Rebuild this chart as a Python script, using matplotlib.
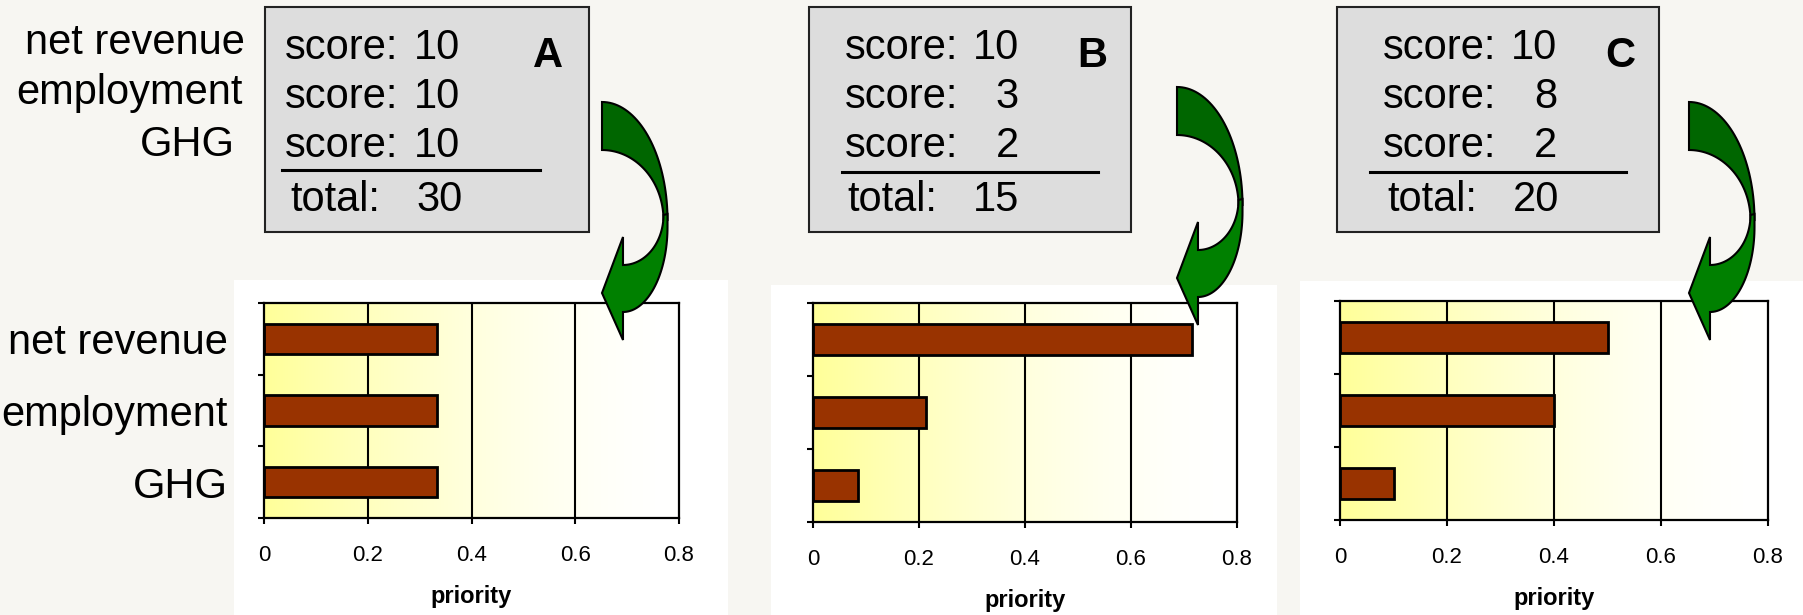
import numpy as np
import matplotlib
matplotlib.use("Agg")
import matplotlib.pyplot as plt
from matplotlib.patches import Rectangle, Polygon

plt.rcParams['font.family'] = ['Liberation Sans', 'DejaVu Sans']

# data
categories = ["net revenue", "employment", "GHG"]
scenarios = ["A", "B", "C"]
scores_A = [10, 10, 10]
scores_B = [10, 3, 2]
scores_C = [10, 8, 2]
totals = [30, 15, 20]
priority_A = [0.333, 0.333, 0.333]
priority_B = [0.715, 0.213, 0.085]
priority_C = [0.5, 0.4, 0.1]
xticks = [0, 0.2, 0.4, 0.6, 0.8]

W, H = 1803, 615
BG = "#F7F6F2"
BAR = "#993300"

fig = plt.figure(figsize=(W / 100, H / 100), dpi=100, facecolor=BG)

# background layer in pixel coords
bg = fig.add_axes([0, 0, 1, 1])
bg.set_xlim(0, W)
bg.set_ylim(H, 0)
bg.axis("off")
bg.set_zorder(0)

# top overlay for arrows
top = fig.add_axes([0, 0, 1, 1])
top.set_xlim(0, W)
top.set_ylim(H, 0)
top.axis("off")
top.patch.set_alpha(0)
top.set_zorder(3)

# layout (pixels)
panels = [(234, 280, 728, 615), (771, 285, 1277, 615), (1300, 281, 1803, 615)]
plots = [(264, 303, 679, 518), (813, 303, 1237, 522), (1340, 301, 1768, 520)]
boxes = [(265, 7, 589, 232), (809, 7, 1131, 232), (1337, 7, 1659, 232)]
text_left = [(285, 290), (845, 847), (1383, 1387)]
num_right = [(460, 463), (1019, 1019), (1557, 1559)]
divider = [(282, 540, 170), (842, 1098, 172), (1370, 1626, 172)]
letter_pos = [(548, 67), (1092, 67), (1620, 67)]
arrow_origin = [(602, 102), (1177, 87), (1689, 102)]
row_base = [59, 108, 157]
total_base = 211

scores = [scores_A, scores_B, scores_C]
priorities = [priority_A, priority_B, priority_C]

# gradient for plot areas: yellow -> white
t = np.linspace(0, 1, 256)
blue = 1 - 0.4 * (1 - t) ** 1.6
grad = np.zeros((1, 256, 3))
grad[0, :, 0] = 1
grad[0, :, 1] = 1
grad[0, :, 2] = blue

# top-left labels
for lab, xr, yb in zip(categories, [245, 243, 235], [54, 104, 156]):
    bg.text(xr, yb, lab, fontsize=30, ha="right", va="baseline")

for i in range(3):
    # white chart panel
    x0, y0, x1, y1 = panels[i]
    bg.add_patch(Rectangle((x0, y0), x1 - x0, y1 - y0, facecolor="white", edgecolor="none"))

    # score box
    x0, y0, x1, y1 = boxes[i]
    bg.add_patch(Rectangle((x0, y0), x1 - x0, y1 - y0, facecolor="#DDDDDD",
                           edgecolor="#222222", linewidth=1.5))
    for s, yb in zip(scores[i], row_base):
        bg.text(text_left[i][0], yb, "score:", fontsize=30, ha="left", va="baseline")
        bg.text(num_right[i][0], yb, str(s), fontsize=30, ha="right", va="baseline")
    bg.text(text_left[i][1], total_base, "total:", fontsize=30, ha="left", va="baseline")
    bg.text(num_right[i][1], total_base, str(totals[i]), fontsize=30, ha="right", va="baseline")
    dx0, dx1, dy = divider[i]
    bg.plot([dx0, dx1], [dy, dy], color="black", linewidth=2.2)
    bg.text(letter_pos[i][0], letter_pos[i][1], scenarios[i], fontsize=30,
            fontweight="bold", ha="center", va="baseline")

    # bar chart
    l, tp, r, b = plots[i]
    ax = fig.add_axes([l / W, 1 - b / H, (r - l) / W, (b - tp) / H])
    ax.set_zorder(1)
    ax.imshow(grad, extent=[0, 0.8, 2.5, -0.5], aspect="auto", zorder=0)
    for g in xticks[1:-1]:
        ax.axvline(g, color="black", linewidth=1.5, zorder=1)
    y = np.arange(len(categories))
    ax.barh(y, priorities[i], height=0.42, color=BAR, edgecolor="black",
            linewidth=2.0, zorder=2)
    ax.set_xlim(0, 0.8)
    ax.set_ylim(2.5, -0.5)
    ax.set_xticks(xticks)
    ax.set_xticklabels(["0", "0.2", "0.4", "0.6", "0.8"], fontsize=16)
    ax.tick_params(axis="x", length=4.3, width=1.5, pad=15, direction="out")
    ax.set_yticks(y)
    if i == 0:
        ax.set_yticklabels(categories, fontsize=30)
    else:
        ax.set_yticklabels([])
    ax.tick_params(axis="y", which="major", length=0, pad=26)
    ax.set_yticks([-0.5, 0.5, 1.5, 2.5], minor=True)
    ax.tick_params(axis="y", which="minor", length=4.3, width=1.5, direction="out")
    for sp in ax.spines.values():
        sp.set_linewidth(1.6)
    ax.set_xlabel("priority", fontsize=17, fontweight="bold", labelpad=14)

    # curved green arrow
    ox, oy = arrow_origin[i]
    th = np.linspace(np.pi / 2, 0, 40)
    outer_up = np.c_[65.5 * np.cos(th), 118 - 118 * np.sin(th)]
    inner_up = np.c_[61.5 * np.cos(th), 118 - 70 * np.sin(th)]
    upper = np.vstack([outer_up, inner_up[::-1]])
    th2 = np.linspace(0, np.pi / 2, 40)
    outer_lo = np.c_[21 + 44.5 * np.cos(th2), 125 + 85 * np.sin(th2)]
    outer_lo = np.vstack([[65.5, 112], outer_lo])
    inner_lo = np.c_[21 + 40.5 * np.cos(th2), 113 + 50 * np.sin(th2)][::-1]
    head = np.array([[21, 238], [0, 191], [21, 135]])
    lower = np.vstack([inner_lo, outer_lo, head])
    top.add_patch(Polygon(upper + [ox, oy], closed=True, facecolor="#006600",
                          edgecolor="black", linewidth=1.5))
    top.add_patch(Polygon(lower + [ox, oy], closed=True, facecolor="#008000",
                          edgecolor="black", linewidth=1.5))

fig.savefig("out.png", dpi=100, facecolor=BG)
